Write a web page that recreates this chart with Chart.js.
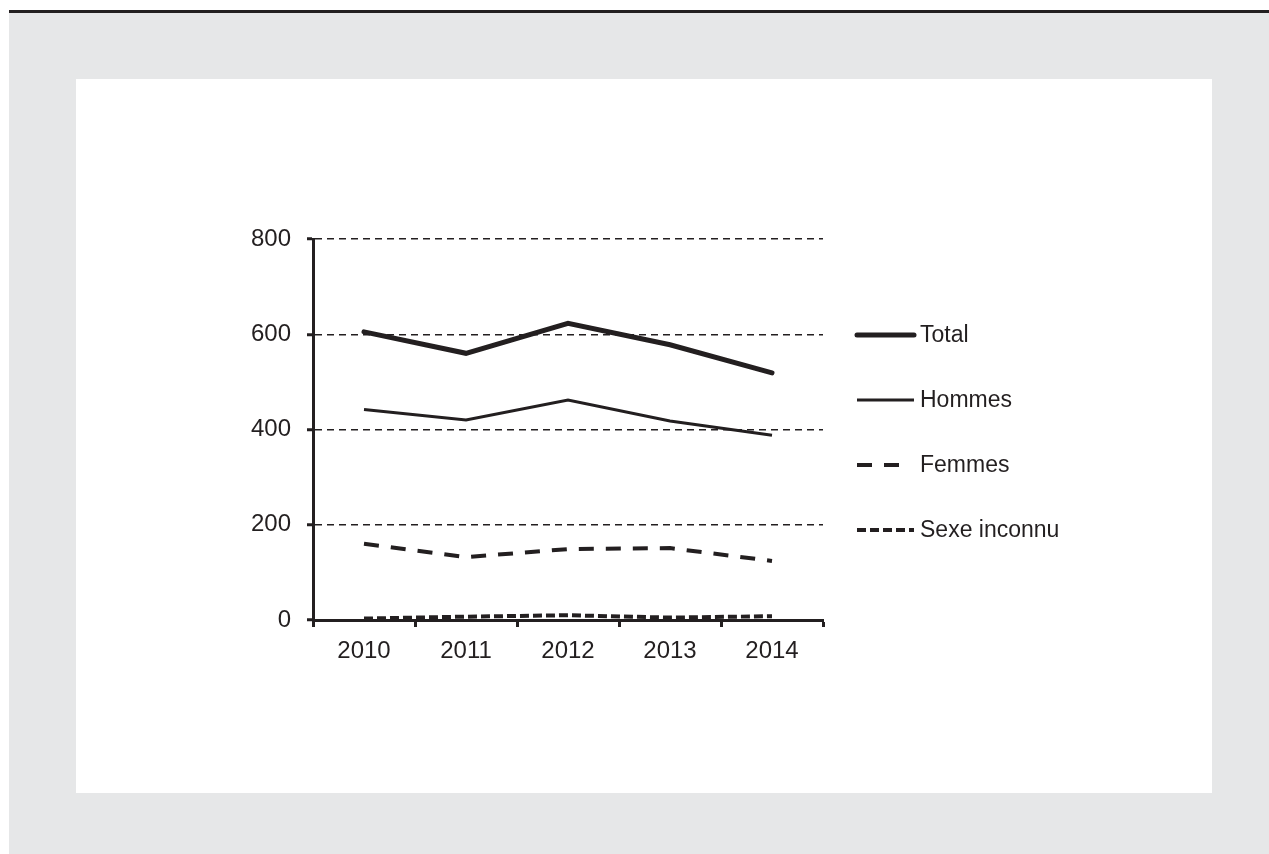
<!DOCTYPE html>
<html lang="fr">
<head>
<meta charset="utf-8">
<title>Total, hommes, femmes et sexe inconnu, 2010-2014</title>
<script src="https://cdn.jsdelivr.net/npm/chart.js@4/dist/chart.umd.min.js"></script>
<style>
  html, body { margin: 0; padding: 0; background: #fff; }
  body { width: 1269px; height: 854px; position: relative; overflow: hidden; }
  .rule { position: absolute; left: 9px; top: 10px; width: 1260px; height: 3px; background: #231f20; }
  .backdrop { position: absolute; left: 9px; top: 13px; width: 1260px; height: 841px; background: #e6e7e8; }
  .panel { position: absolute; left: 76px; top: 79px; width: 1136px; height: 714px; background: #fff; }
  canvas { display: block; }
</style>
</head>
<body>
<div class="rule"></div>
<div class="backdrop"></div>
<div class="panel"><canvas id="chart" width="1136" height="714"></canvas></div>
<script>
// years on the x axis
const years = ["2010", "2011", "2012", "2013", "2014"];

// yearly counts per series
const total = [605, 560, 623, 578, 519];
const hommes = [442, 420, 462, 418, 388];
const femmes = [160, 132, 149, 151, 124];
const sexeInconnu = [3, 7, 10, 5, 8];

// y axis ticks
const yTicks = [0, 200, 400, 600, 800];

const ink = "#231f20";
const fontFamily = "'Liberation Sans', Arial, Helvetica, sans-serif";

// sample length for a dashed line: drop a trailing scrap shorter than half a dash
function sampleLength(len, dash) {
  if (!dash || !dash.length) return len;
  const period = dash[0] + dash[1];
  const rest = len % period;
  if (rest > 0 && rest < dash[0] / 2) return len - rest - dash[1];
  return len;
}

// legend drawn to the right of the plot, one sample line per series
const sideLegend = {
  id: "sideLegend",
  afterDatasetsDraw(chart) {
    const ctx = chart.ctx;
    const area = chart.chartArea;
    const x0 = area.right + 34;
    const len = 57;
    ctx.save();
    chart.data.datasets.forEach((ds, i) => {
      const y = area.top + 96 + i * 65;
      ctx.beginPath();
      ctx.lineWidth = ds.borderWidth;
      ctx.strokeStyle = ds.borderColor;
      ctx.lineCap = ds.borderCapStyle || "butt";
      ctx.setLineDash(ds.borderDash || []);
      ctx.moveTo(x0, y);
      ctx.lineTo(x0 + sampleLength(len, ds.borderDash), y);
      ctx.stroke();
      ctx.setLineDash([]);
      ctx.fillStyle = ink;
      ctx.font = "23px " + fontFamily;
      ctx.textAlign = "left";
      ctx.textBaseline = "middle";
      ctx.fillText(ds.label, x0 + len + 6, y + 1);
    });
    ctx.restore();
  }
};

new Chart(document.getElementById("chart"), {
  type: "line",
  data: {
    labels: years,
    datasets: [
      {
        label: "Total",
        data: total,
        borderColor: ink,
        borderWidth: 5,
        borderCapStyle: "round",
        borderJoinStyle: "miter"
      },
      {
        label: "Hommes",
        data: hommes,
        borderColor: ink,
        borderWidth: 3,
        borderCapStyle: "butt"
      },
      {
        label: "Femmes",
        data: femmes,
        borderColor: ink,
        borderWidth: 4,
        borderDash: [15, 12],
        borderCapStyle: "butt"
      },
      {
        label: "Sexe inconnu",
        data: sexeInconnu,
        borderColor: ink,
        borderWidth: 4,
        borderDash: [9, 4],
        borderCapStyle: "butt"
      }
    ]
  },
  options: {
    responsive: false,
    animation: false,
    events: [],
    elements: {
      point: { radius: 0 },
      line: { tension: 0, fill: false }
    },
    layout: {
      padding: { left: 0, top: 160, right: 389, bottom: 113 }
    },
    plugins: {
      legend: { display: false },
      tooltip: { enabled: false }
    },
    scales: {
      x: {
        type: "category",
        offset: true,
        grid: {
          offset: true,
          drawOnChartArea: false,
          drawTicks: true,
          tickLength: 7,
          tickWidth: 3,
          tickColor: ink
        },
        border: { display: true, width: 3, color: ink },
        ticks: {
          color: ink,
          padding: 10,
          maxRotation: 0,
          font: { family: fontFamily, size: 24 }
        },
        afterFit(scale) { scale.height = 60; }
      },
      y: {
        min: 0,
        max: 800,
        afterBuildTicks(scale) {
          scale.ticks = yTicks.map(v => ({ value: v }));
        },
        grid: {
          color: ink,
          lineWidth: 1.5,
          drawTicks: true,
          tickLength: 6,
          tickWidth: 3,
          tickColor: ink,
          tickBorderDash: []
        },
        border: { display: true, width: 3, color: ink, dash: [7, 5] },
        ticks: {
          color: ink,
          padding: 16,
          font: { family: fontFamily, size: 24 }
        },
        afterFit(scale) { scale.width = 237; }
      }
    }
  },
  plugins: [sideLegend]
});
</script>
</body>
</html>
